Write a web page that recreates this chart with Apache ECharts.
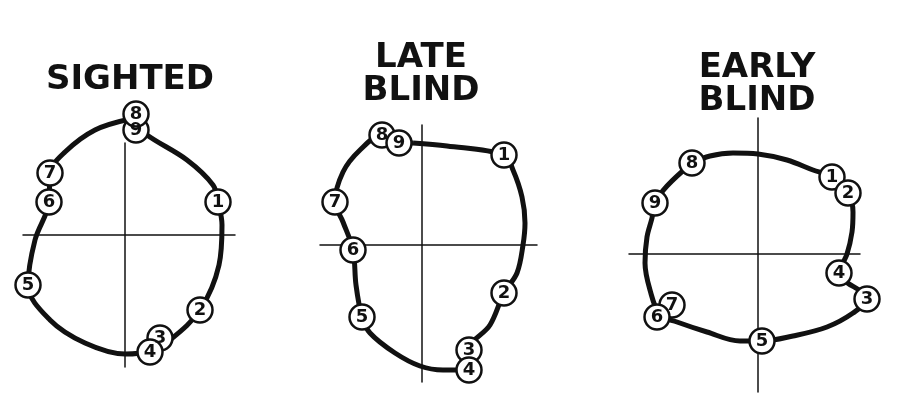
<!DOCTYPE html>
<html><head><meta charset="utf-8">
<script src="https://cdn.jsdelivr.net/npm/echarts@6/dist/echarts.min.js"></script>
<style>html,body{margin:0;padding:0;background:#fff}#c{width:916px;height:417px}</style>
</head><body><div id="c"></div>
<script>
// ---- data (units relative to each panel's axis crossing) ----
const panelTitles = ['SIGHTED', 'LATE\nBLIND', 'EARLY\nBLIND'];

const sightedCurve = [[5,116],[22,100],[62,75],[88,50],[93,33],[97,10],[94,-30],[75,-75],[45,-105],[25,-116],[0,-119],[-40,-108],[-75,-85],[-97,-50],[-90,-5],[-76,33],[-75,62],[-60,83],[-30,105],[5,116]];
const sightedLabels = ['1','2','3','4','5','6','7','9','8'];
const sightedPoints = [[93,33],[75,-75],[35,-103],[25,-117],[-97,-50],[-76,33],[-75,62],[11,105],[11,121]];

const lateCurve = [[-9,102],[25,99],[82,90],[91,75],[100,48],[103,22],[101,0],[95,-28],[82,-48],[68,-80],[47,-105],[47,-125],[21,-125],[-2,-121],[-27,-108],[-52,-88],[-60,-72],[-66,-40],[-69,-5],[-79,23],[-87,43],[-79,73],[-62,95],[-40,110],[-23,102],[-9,102]];
const lateLabels = ['1','2','3','4','5','6','7','8','9'];
const latePoints = [[82,90],[82,-48],[47,-105],[47,-125],[-60,-72],[-69,-5],[-87,43],[-40,110],[-23,102]];

const earlyCurve = [[-66,91],[-48,98],[-25,101],[0,100],[29,94],[55,84],[74,77],[90,61],[95,42],[94,22],[89,0],[81,-19],[109,-45],[95,-59],[69,-73],[35,-82],[4,-87],[-18,-87],[-51,-78],[-81,-68],[-98,-61],[-108,-36],[-113,-9],[-111,17],[-106,36],[-103,51],[-91,68],[-66,91]];
const earlyLabels = ['1','2','3','4','5','7','6','8','9'];
const earlyPoints = [[74,77],[90,61],[109,-45],[81,-19],[4,-87],[-86,-51],[-101,-63],[-66,91],[-103,51]];

const xRanges = [[-102,110],[-102,115],[-129,102]];
const yRanges = [[-132,92],[-137,120],[-138,136]];

// ---- layout ----
const grids = [
  {left:23, top:143, width:212, height:224},
  {left:320, top:125, width:217, height:257},
  {left:629, top:118, width:231, height:274}
];
const titlePos = [[130,64],[421,42],[757,52]];

const curves = [sightedCurve, lateCurve, earlyCurve];
const labels = [sightedLabels, lateLabels, earlyLabels];
const points = [sightedPoints, latePoints, earlyPoints];

const axisCommon = {
  type:'value', axisTick:{show:false}, axisLabel:{show:false}, splitLine:{show:false},
  axisLine:{show:true, onZero:true, lineStyle:{color:'#111', width:1.5}}
};

const series = [];
for (let i = 0; i < 3; i++) {
  series.push({
    type:'line', xAxisIndex:i, yAxisIndex:i, data:curves[i], smooth:0.35,
    showSymbol:false, clip:false, z:2, silent:true,
    lineStyle:{color:'#111', width:5}
  });
  series.push({
    type:'scatter', xAxisIndex:i, yAxisIndex:i, clip:false, z:4, silent:true,
    data: points[i].map((p,k)=>({name:labels[i][k], value:p})),
    symbol:'circle', symbolSize:25,
    itemStyle:{color:'#fff', borderColor:'#111', borderWidth:2.5, opacity:1},
    label:{show:true, position:'inside', formatter:'{b}', color:'#111',
      fontFamily:'DejaVu Sans', fontWeight:'bold', fontSize:18}
  });
}

const chart = echarts.init(document.getElementById('c'), null, {renderer:'canvas'});
chart.setOption({
  animation:false,
  backgroundColor:'#fff',
  grid: grids.map(g=>Object.assign({containLabel:false}, g)),
  xAxis: xRanges.map((r,i)=>Object.assign({}, axisCommon, {gridIndex:i, min:r[0], max:r[1]})),
  yAxis: yRanges.map((r,i)=>Object.assign({}, axisCommon, {gridIndex:i, min:r[0], max:r[1]})),
  graphic: panelTitles.map((t,i)=>({
    type:'text', x:titlePos[i][0], y:titlePos[i][1], silent:true,
    style:{text:t, fill:'#111', font:'bold 34px "DejaVu Sans"', textAlign:'center',
      textVerticalAlign:'top', lineHeight:33}
  })),
  series: series
});
</script></body></html>
